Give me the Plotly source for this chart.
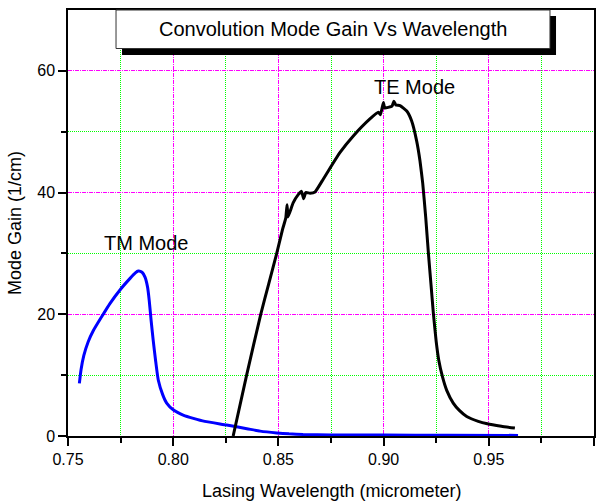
import plotly.graph_objects as go

# ---- data ----
tm_x = [0.7554, 0.7562, 0.7575, 0.7596, 0.7620, 0.7660, 0.7700, 0.7747, 0.7795, 0.7820,
        0.7834, 0.7852, 0.7866, 0.7878, 0.7886, 0.7895, 0.7905, 0.7917, 0.7929, 0.7950,
        0.7969, 0.8000, 0.8050, 0.8096, 0.8150, 0.8254, 0.8350, 0.8413, 0.8492, 0.8550,
        0.8617, 0.8750, 0.9000, 0.9300, 0.9639]
tm_y = [8.65, 10.9, 13.2, 15.5, 17.3, 19.6, 21.8, 24.0, 25.9, 26.8,
        27.1, 26.9, 26.1, 24.5, 22.3, 19.0, 15.7, 12.2, 9.2, 6.8,
        5.4, 4.3, 3.4, 2.9, 2.4, 1.8, 1.2, 0.8, 0.5, 0.35,
        0.25, 0.18, 0.15, 0.12, 0.1]

te_x = [0.8285, 0.8349, 0.8416, 0.8454, 0.8492, 0.8520, 0.8535, 0.8541, 0.8546, 0.8570,
        0.8595, 0.8610, 0.8620, 0.8630, 0.8650, 0.8674, 0.8713, 0.8745, 0.8793, 0.8856,
        0.8935, 0.8975, 0.8985, 0.8999, 0.9005, 0.9022, 0.9040, 0.9049, 0.9058, 0.9078,
        0.9110, 0.9133, 0.9157, 0.9173, 0.9186, 0.9200, 0.9213, 0.9225, 0.9237, 0.9250,
        0.9262, 0.9280, 0.9300, 0.9331, 0.9360, 0.9395, 0.9450, 0.9493, 0.9560, 0.9624]
te_y = [0.0, 10.0, 20.0, 25.0, 30.0, 34.0, 35.8, 38.0, 36.0, 38.3,
        39.7, 40.2, 39.0, 40.0, 39.9, 40.1, 42.2, 44.0, 46.6, 49.3,
        52.1, 53.2, 52.8, 54.8, 53.9, 54.0, 54.2, 55.0, 54.4, 54.3,
        53.4, 51.8, 48.5, 45.2, 41.5, 36.0, 30.0, 25.0, 20.0, 15.5,
        12.5, 9.7, 7.5, 5.4, 4.2, 3.2, 2.4, 2.0, 1.6, 1.3]

x_range = [0.75, 1.00]
y_range = [0, 70]
x_major = [0.75, 0.80, 0.85, 0.90, 0.95, 1.00]
x_major_text = ["0.75", "0.80", "0.85", "0.90", "0.95", "1.00"]
x_minor = [0.775, 0.825, 0.875, 0.925, 0.975]
y_major = [0, 20, 40, 60]
y_minor = [10, 30, 50]
title_text = "Convolution Mode Gain Vs Wavelength"
x_title = "Lasing Wavelength (micrometer)"
y_title = "Mode Gain (1/cm)"
labels = [("TM Mode", 0.7871, 31.7), ("TE Mode", 0.9149, 57.3)]

FONT = "Liberation Sans, Arial, sans-serif"
MAJOR_DASH = "4px,1px,1px,1px"
MINOR_DASH = "1px,1px"

fig = go.Figure()
fig.add_trace(go.Scatter(x=tm_x, y=tm_y, mode="lines",
                         line=dict(color="#0000ff", width=3, shape="spline", smoothing=0.5),
                         showlegend=False, hoverinfo="skip"))
fig.add_trace(go.Scatter(x=te_x, y=te_y, mode="lines",
                         line=dict(color="#000000", width=3, shape="spline", smoothing=0.4),
                         showlegend=False, hoverinfo="skip"))

axis_common = dict(
    showline=True, linecolor="black", linewidth=1.5, mirror=True,
    ticks="outside", ticklen=8, tickwidth=1.5, tickcolor="black",
    showgrid=True, gridcolor="#ff00ff", griddash=MAJOR_DASH, gridwidth=1,
    zeroline=False,
    tickfont=dict(family=FONT, size=16, color="black"),
)
minor_common = dict(tickmode="array", ticks="outside", ticklen=5, tickwidth=1.5,
                    tickcolor="black", showgrid=True, gridcolor="#00ff00",
                    griddash=MINOR_DASH, gridwidth=1)

fig.update_xaxes(range=x_range, tickmode="array", tickvals=x_major, ticktext=x_major_text,
                 minor=dict(tickvals=x_minor, **minor_common), **axis_common)
fig.update_yaxes(range=y_range, tickmode="array", tickvals=y_major,
                 minor=dict(tickvals=y_minor, **minor_common), **axis_common)

# title box with drop shadow (paper coords)
fig.add_shape(type="rect", xref="paper", yref="paper",
              x0=0.1027, x1=0.9278, y0=0.8944, y1=0.9859,
              fillcolor="black", line=dict(width=0), layer="above")
fig.add_shape(type="rect", xref="paper", yref="paper",
              x0=0.0913, x1=0.9163, y0=0.9096, y1=1.0,
              fillcolor="white", line=dict(color="#333333", width=1), layer="above")
fig.add_annotation(text=title_text, xref="paper", yref="paper", x=0.5038, y=0.9554,
                   showarrow=False, xanchor="center", yanchor="middle",
                   font=dict(family=FONT, size=20, color="black"))

for txt, lx, ly in labels:
    fig.add_annotation(text=txt, x=lx, y=ly, xref="x", yref="y", showarrow=False,
                       xanchor="center", yanchor="middle",
                       font=dict(family=FONT, size=20, color="black"))

fig.add_annotation(text=x_title, xref="paper", yref="paper", x=0.5, y=-0.1291,
                   showarrow=False, xanchor="center", yanchor="middle",
                   font=dict(family=FONT, size=18, color="black"))
fig.add_annotation(text=y_title, xref="paper", yref="paper", x=-0.1008, y=0.5,
                   textangle=-90, showarrow=False, xanchor="center", yanchor="middle",
                   font=dict(family=FONT, size=18, color="black"))

fig.update_layout(width=606, height=502,
                  margin=dict(l=68, r=12, t=10, b=66, autoexpand=False),
                  paper_bgcolor="white", plot_bgcolor="white",
                  font=dict(family=FONT))

fig.write_html("out.html")
